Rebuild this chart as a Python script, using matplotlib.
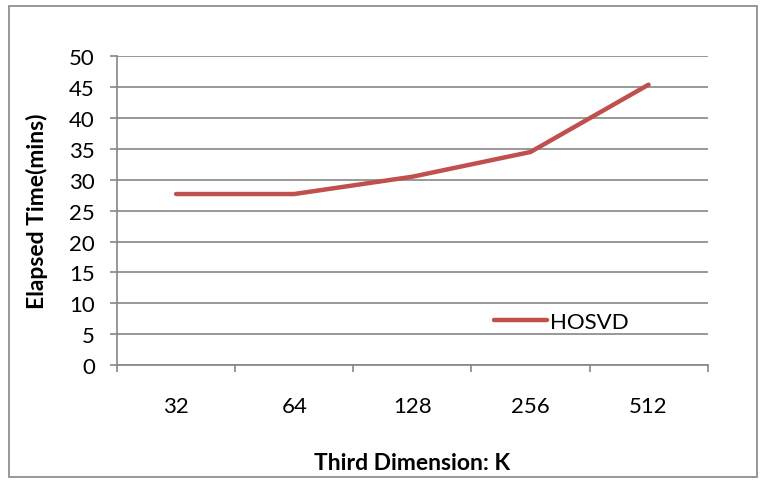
import matplotlib.pyplot as plt
from matplotlib.patches import Rectangle

plt.rcParams['font.family'] = ['Lato', 'DejaVu Sans']

categories = ['32', '64', '128', '256', '512']
hosvd = [27.7, 27.7, 30.5, 34.5, 45.4]
yticks = [0, 5, 10, 15, 20, 25, 30, 35, 40, 45, 50]

grey = '#868686'
red = '#C0504D'

fig = plt.figure(figsize=(7.65, 4.85), dpi=100)
fig.patches.append(Rectangle((0.012, 0.015), 0.978, 0.97, transform=fig.transFigure,
                             fill=False, edgecolor=grey, linewidth=1.2))

ax = fig.add_axes([0.153, 0.245, 0.772, 0.637])
x = range(len(categories))
ax.plot(x, hosvd, color=red, linewidth=3.2, solid_capstyle='round', label='HOSVD')

ax.set_xlim(-0.5, len(categories) - 0.5)
ax.set_ylim(0, 50)
ax.set_yticks(yticks)
ax.yaxis.grid(True, color=grey, linewidth=1.2)
ax.set_axisbelow(True)

# category boundaries get the tick marks, labels sit at the centres
ax.set_xticks([i - 0.5 for i in range(len(categories) + 1)])
ax.set_xticklabels([])
ax.set_xticks(list(x), minor=True)
ax.set_xticklabels(categories, minor=True, fontsize=16)
ax.tick_params(axis='x', which='minor', length=0, pad=22)
ax.tick_params(axis='x', which='major', length=5, color=grey, width=1.2, direction='out')
ax.tick_params(axis='y', length=5, color=grey, width=1.2, labelsize=16, pad=11)

for side in ['top', 'right']:
    ax.spines[side].set_visible(False)
for side in ['left', 'bottom']:
    ax.spines[side].set_color(grey)
    ax.spines[side].set_linewidth(1.2)

ax.set_ylabel('Elapsed Time(mins)', fontsize=16.5, fontweight='bold', labelpad=15)
ax.set_xlabel('Third Dimension: K', fontsize=16.5, fontweight='bold', labelpad=26)

ax.legend(loc='center left', bbox_to_anchor=(0.605, 0.14), frameon=False,
          fontsize=16, handlelength=2.35, handletextpad=0.15)

fig.savefig('out.png', dpi=100)
